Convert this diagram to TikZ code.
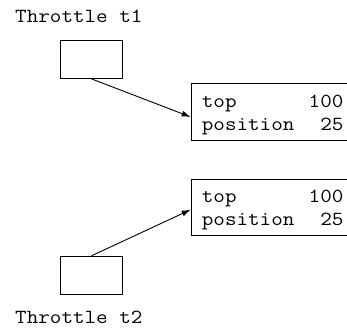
\documentclass[tikz,border=0pt]{standalone}
\usepackage{fontspec}
\newfontfamily\monofam{Latin Modern Mono}[FakeStretch=1.124]
\usetikzlibrary{arrows.meta}
\newcommand{\rowline}[2]{\makebox[141.6pt][l]{#1\hfill #2}}
\tikzset{
  txt/.style={font=\monofam\fontsize{20}{23}\selectfont, inner sep=0pt},
  smallbox/.style={draw, line width=0.9pt, minimum width=61.5pt, minimum height=38.5pt, inner sep=0pt},
  bigbox/.style={draw, line width=0.9pt, anchor=north west, align=left, inner xsep=10.7pt, inner ysep=5pt,
     font=\monofam\fontsize{20}{23}\selectfont},
  conn/.style={line width=0.9pt, -{Latex[length=9pt,width=6pt]}}
}
\begin{document}
\begin{tikzpicture}[x=1pt,y=-1pt]
\clip (0,0) rectangle (347,327);
\fill[white] (0,0) rectangle (347,327);
\node[txt, anchor=base west] (l1) at (15,22.7) {Throttle t1};
\node[txt, anchor=base west] (l2) at (15,323.3) {Throttle t2};
\node[smallbox] (s1) at (91.5,59.2) {};
\node[smallbox] (s2) at (91.5,275.5) {};
\node[bigbox] (b1) at (190.7,83.3) {\rule{0pt}{18.4pt}\rowline{top}{100}\\\rowline{position}{25}\rule[-5pt]{0pt}{5pt}};
\node[bigbox] (b2) at (190.7,179) {\rule{0pt}{18.4pt}\rowline{top}{100}\\\rowline{position}{25}\rule[-5pt]{0pt}{5pt}};
\draw[conn] (s1.south) -- ([yshift=-5pt]b1.west);
\draw[conn] (s2.north) -- ([yshift=-2pt]b2.west);
\end{tikzpicture}
\end{document}
